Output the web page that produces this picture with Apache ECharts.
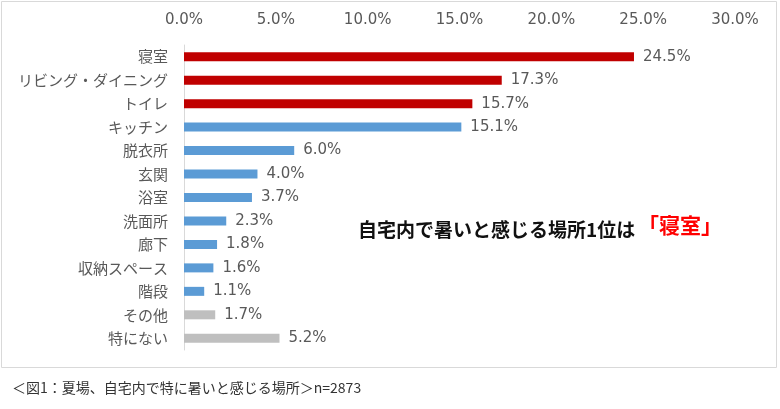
<!DOCTYPE html>
<html>
<head>
<meta charset="utf-8">
<script src="https://cdn.jsdelivr.net/npm/echarts@6/dist/echarts.min.js"></script>
<style>
  html, body { margin: 0; padding: 0; background: #fff; }
  #chart { width: 780px; height: 409px; }
</style>
</head>
<body>
<div id="chart"></div>
<script>
  // data, top to bottom as shown in the picture
  const places = ['寝室', 'リビング・ダイニング', 'トイレ', 'キッチン', '脱衣所', '玄関', '浴室', '洗面所', '廊下', '収納スペース', '階段', 'その他', '特にない'];
  const shares = [24.5, 17.3, 15.7, 15.1, 6.0, 4.0, 3.7, 2.3, 1.8, 1.6, 1.1, 1.7, 5.2];
  const barColors = ['#C00000', '#C00000', '#C00000', '#5B9BD5', '#5B9BD5', '#5B9BD5', '#5B9BD5', '#5B9BD5', '#5B9BD5', '#5B9BD5', '#5B9BD5', '#BFBFBF', '#BFBFBF'];
  const xTicks = [0, 5, 10, 15, 20, 25, 30];

  const font = '"Noto Sans CJK JP", "Noto Sans", sans-serif';
  const numFont = '"DejaVu Sans", sans-serif';

  const chart = echarts.init(document.getElementById('chart'));
  chart.setOption({
    animation: false,
    textStyle: { fontFamily: font },
    grid: { left: 184, right: 45, top: 45, bottom: 59 },
    xAxis: {
      type: 'value',
      position: 'top',
      min: xTicks[0],
      max: xTicks[xTicks.length - 1],
      interval: 5,
      axisLine: { show: false },
      axisTick: { show: false },
      splitLine: { show: false },
      axisLabel: {
        color: '#595959',
        fontFamily: numFont,
        fontSize: 15,
        margin: 17,
        formatter: v => v.toFixed(1) + '%'
      }
    },
    yAxis: {
      type: 'category',
      inverse: true,
      data: places,
      axisLine: { show: true, lineStyle: { color: '#D9D9D9', width: 1 } },
      axisTick: { show: false },
      axisLabel: { color: '#595959', fontSize: 15, margin: 16 }
    },
    series: [{
      type: 'bar',
      barWidth: 9,
      data: shares.map((v, i) => ({ value: v, itemStyle: { color: barColors[i] } })),
      label: {
        show: true,
        position: 'right',
        distance: 9,
        color: '#595959',
        fontFamily: numFont,
        fontSize: 15,
        formatter: p => p.value.toFixed(1) + '%'
      }
    }],
    graphic: [
      {
        type: 'rect',
        shape: { x: 1.5, y: 1.5, width: 775, height: 366 },
        style: { fill: 'none', stroke: '#D9D9D9', lineWidth: 1 }
      },
      {
        type: 'text',
        left: 358,
        top: 220,
        style: {
          text: '自宅内で暑いと感じる場所1位は',
          fill: '#111',
          font: 'bold 19px ' + font
        }
      },
      {
        type: 'text',
        left: 638,
        top: 215,
        style: {
          text: '「寝室」',
          fill: '#FF0000',
          font: 'bold 21px ' + font
        }
      },
      {
        type: 'text',
        left: 12,
        top: 381,
        style: {
          text: '＜図1：夏場、自宅内で特に暑いと感じる場所＞n=2873',
          fill: '#333',
          font: '14px ' + font
        }
      }
    ]
  });
</script>
</body>
</html>
